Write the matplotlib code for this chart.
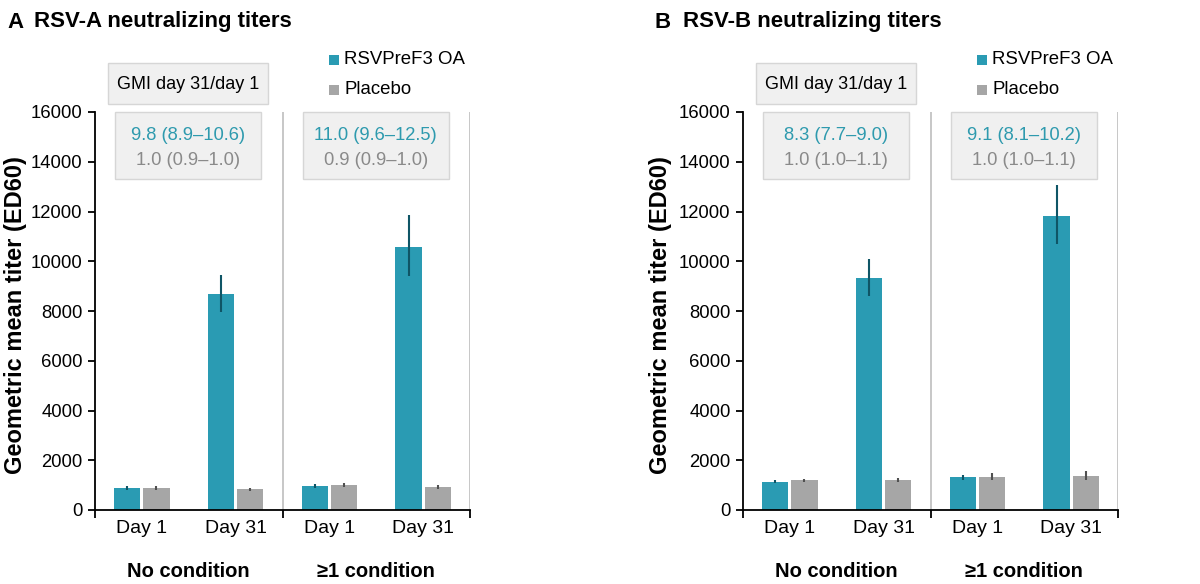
import numpy as np
import matplotlib
matplotlib.use("Agg")
import matplotlib.pyplot as plt
from matplotlib.patches import Rectangle

plt.rcParams['font.family'] = ['Liberation Sans', 'DejaVu Sans']

# data
days = ["Day 1", "Day 31", "Day 1", "Day 31"]
groups = ["No condition", "\u22651 condition"]
series = ["RSVPreF3 OA", "Placebo"]

rsva_vacc = [885, 8680, 975, 10570]
rsva_vacc_lo = [820, 7960, 900, 9400]
rsva_vacc_hi = [950, 9450, 1060, 11870]
rsva_plac = [885, 840, 1005, 935]
rsva_plac_lo = [820, 780, 920, 860]
rsva_plac_hi = [950, 900, 1100, 1020]

rsvb_vacc = [1140, 9315, 1320, 11810]
rsvb_vacc_lo = [1080, 8615, 1220, 10700]
rsvb_vacc_hi = [1200, 10080, 1420, 13070]
rsvb_plac = [1190, 1205, 1340, 1370]
rsvb_plac_lo = [1120, 1120, 1200, 1200]
rsvb_plac_hi = [1260, 1300, 1480, 1550]

gmi_a = [("9.8 (8.9\u201310.6)", "1.0 (0.9\u20131.0)"), ("11.0 (9.6\u201312.5)", "0.9 (0.9\u20131.0)")]
gmi_b = [("8.3 (7.7\u20139.0)", "1.0 (1.0\u20131.1)"), ("9.1 (8.1\u201310.2)", "1.0 (1.0\u20131.1)")]

TEAL = "#2a9bb3"
TEAL_ERR = "#0f5566"
GREY = "#a6a6a6"
GREY_ERR = "#505050"
GMI_TEAL = "#2e9aae"
GMI_GREY = "#8a8a8a"


def panel(ax, vacc, vlo, vhi, plac, plo, phi, gmi):
    x = np.arange(len(days)) + 0.5
    w = 0.28
    off = 0.155
    ax.bar(x - off, vacc, w, color=TEAL, zorder=2)
    ax.bar(x + off, plac, w, color=GREY, zorder=2)
    ax.errorbar(x - off, vacc, yerr=[np.subtract(vacc, vlo), np.subtract(vhi, vacc)],
                fmt="none", ecolor=TEAL_ERR, elinewidth=1.5, capsize=0, zorder=3)
    ax.errorbar(x + off, plac, yerr=[np.subtract(plac, plo), np.subtract(phi, plac)],
                fmt="none", ecolor=GREY_ERR, elinewidth=1.5, capsize=0, zorder=3)

    ax.set_xlim(0, 4)
    ax.set_ylim(0, 16000)
    ax.set_yticks(np.arange(0, 16001, 2000))
    ax.tick_params(axis="y", labelsize=13.3, length=5, width=1.3, pad=4)
    ax.set_xticks([0, 2, 4])
    ax.set_xticklabels([])
    ax.set_xticks(x, minor=True)
    ax.set_xticklabels(days, minor=True, fontsize=14)
    ax.tick_params(axis="x", which="major", length=6, width=1.3, direction="out")
    ax.tick_params(axis="x", which="minor", length=0, pad=7)
    for s in ["top", "right"]:
        ax.spines[s].set_visible(False)
    ax.spines["left"].set_linewidth(1.3)
    ax.spines["bottom"].set_linewidth(1.3)
    ax.axvline(2, color="#bdbdbd", lw=1.2, zorder=1)
    ax.axvline(4, color="#bdbdbd", lw=1.2, zorder=1)
    ax.set_ylabel("Geometric mean titer (ED60)", fontsize=17, fontweight="bold")

    for i, g in enumerate(groups):
        ax.text(1 + 2 * i, -0.155, g, transform=ax.get_xaxis_transform(),
                ha="center", va="center", fontsize=14.5, fontweight="bold")

    # GMI boxes
    ax.add_patch(Rectangle((0.14, 16320), 1.70, 1650, facecolor="#f0f0f0",
                           edgecolor="#d6d6d6", lw=1, clip_on=False, zorder=4))
    ax.text(0.99, 17100, "GMI day 31/day 1", ha="center", va="center",
            fontsize=13, clip_on=False, zorder=5)
    for i, (t1, t2) in enumerate(gmi):
        x0 = 0.215 + 2 * i
        ax.add_patch(Rectangle((x0, 13300), 1.56, 2700, facecolor="#f0f0f0",
                               edgecolor="#d6d6d6", lw=1, clip_on=False, zorder=4))
        ax.text(x0 + 0.78, 15060, t1, ha="center", va="center", fontsize=13.2,
                color=GMI_TEAL, zorder=5)
        ax.text(x0 + 0.78, 14060, t2, ha="center", va="center", fontsize=13.2,
                color=GMI_GREY, zorder=5)

    # legend
    for j, (lab, col) in enumerate(zip(series, [TEAL, GREY])):
        yy = 18100 - j * 1200
        ax.add_patch(Rectangle((2.5, yy - 200), 0.1, 400, facecolor=col,
                               edgecolor="none", clip_on=False))
        ax.text(2.66, yy, lab, ha="left", va="center", fontsize=13.4, clip_on=False)


fig = plt.figure(figsize=(12, 5.84), dpi=100)
axA = fig.add_axes([95 / 1200, 1 - 510 / 584, 375 / 1200, 398 / 584])
axB = fig.add_axes([743 / 1200, 1 - 510 / 584, 375 / 1200, 398 / 584])

panel(axA, rsva_vacc, rsva_vacc_lo, rsva_vacc_hi, rsva_plac, rsva_plac_lo, rsva_plac_hi, gmi_a)
panel(axB, rsvb_vacc, rsvb_vacc_lo, rsvb_vacc_hi, rsvb_plac, rsvb_plac_lo, rsvb_plac_hi, gmi_b)
axA.yaxis.set_label_coords(-0.182, 0.49)
axB.yaxis.set_label_coords(-0.19, 0.49)

fig.text(7 / 1200, 1 - 22 / 584, "A", fontsize=16, fontweight="bold", va="center")
fig.text(34 / 1200, 1 - 22 / 584, "RSV-A neutralizing titers", fontsize=16,
         fontweight="bold", va="center")
fig.text(655 / 1200, 1 - 22 / 584, "B", fontsize=16, fontweight="bold", va="center")
fig.text(683 / 1200, 1 - 22 / 584, "RSV-B neutralizing titers", fontsize=16,
         fontweight="bold", va="center")

fig.savefig("out.png", dpi=100)
